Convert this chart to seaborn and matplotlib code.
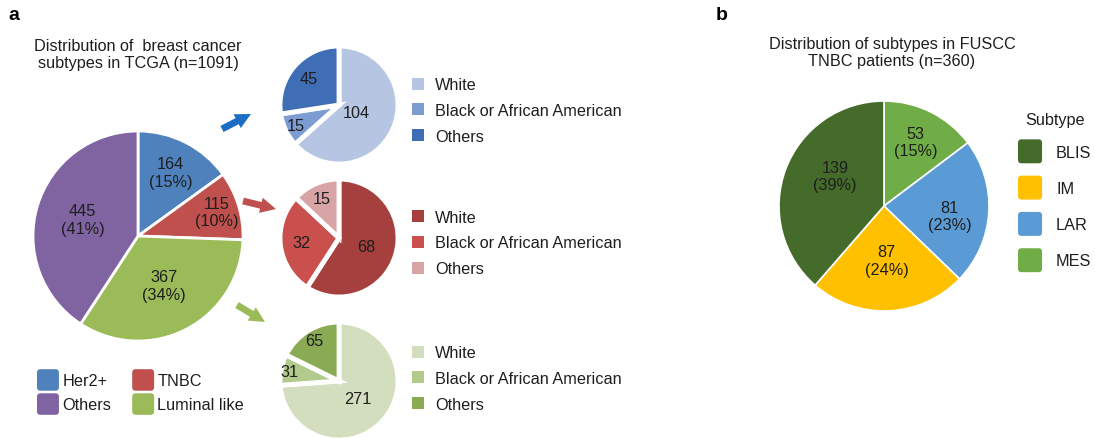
import numpy as np
import matplotlib
matplotlib.use("Agg")
import matplotlib.pyplot as plt
from matplotlib.patches import Patch, FancyBboxPatch
from matplotlib.legend_handler import HandlerPatch
import seaborn as sns

# ---- data ----
tcga_subtypes = ["Her2+", "TNBC", "Luminal like", "Others"]
tcga_counts = [164, 115, 367, 445]
tcga_pct = [15, 10, 34, 41]

race_labels = ["White", "Black or African American", "Others"]
her2_race = [104, 15, 45]
tnbc_race = [68, 32, 15]
luminal_race = [271, 31, 65]

fuscc_subtypes = ["MES", "LAR", "IM", "BLIS"]
fuscc_counts = [53, 81, 87, 139]
fuscc_pct = [15, 23, 24, 39]
legend_order = ["BLIS", "IM", "LAR", "MES"]

# ---- style ----
sns.set_theme(style="white")
plt.rcParams["font.family"] = ["Liberation Sans", "DejaVu Sans"]
TXT = "#1e1e1e"
FS = 11.7

main_colors = sns.color_palette(["#4F81BD", "#C0504D", "#9BBB59", "#8064A2"])
blue_shades = sns.color_palette(["#B6C6E2", "#7C9CD2", "#3F6DB6"])
red_shades = sns.color_palette(["#A5403E", "#C9504D", "#D8A4A5"])
green_shades = sns.color_palette(["#D2DEBD", "#B2CA8B", "#8AAA53"])
fuscc_colors = {"BLIS": "#456B2B", "IM": "#FFC000", "LAR": "#5B9BD5", "MES": "#70AD47"}

W, H = 1095, 439
fig = plt.figure(figsize=(W / 100, H / 100), dpi=100)

# overlay in pixel coordinates for titles and arrows
ov = fig.add_axes([0, 0, 1, 1])
ov.set_xlim(0, W)
ov.set_ylim(H, 0)
ov.axis("off")


def pie_axes(cx, cy, r):
    pad = 1.08
    side = 2 * r * pad
    ax = fig.add_axes([(cx - side / 2) / W, 1 - (cy + side / 2) / H, side / W, side / H])
    return ax, pad


def draw_pie(cx, cy, r, values, colors, labels, dists, lw, turns=None):
    ax, pad = pie_axes(cx, cy, r)
    wedges, _ = ax.pie(values, colors=colors, startangle=90, counterclock=False,
                       wedgeprops=dict(edgecolor="white", linewidth=lw))
    ax.set_xlim(-pad, pad)
    ax.set_ylim(-pad, pad)
    turns = turns or [0] * len(wedges)
    for w, lab, d, t in zip(wedges, labels, dists, turns):
        ang = np.deg2rad((w.theta1 + w.theta2) / 2 + t)
        ax.text(d * np.cos(ang), d * np.sin(ang), lab, ha="center", va="center",
                fontsize=FS, color=TXT, linespacing=1.2)
    return ax, wedges


def rounded(legend, orig_handle, xdescent, ydescent, width, height, fontsize):
    return FancyBboxPatch((-xdescent, -ydescent), width, height,
                          boxstyle="round,pad=0,rounding_size=2.5", mutation_aspect=1)


hmap = {Patch: HandlerPatch(patch_func=rounded)}

# ---- panel a: TCGA subtypes ----
main_labels = [f"{c}\n({p}%)" for c, p in zip(tcga_counts, tcga_pct)]
_, main_wedges = draw_pie(138, 237, 105, tcga_counts, main_colors, main_labels,
                          [0.68, 0.78, 0.53, 0.55], 2.0)

draw_pie(339, 106, 59, her2_race, blue_shades, [str(v) for v in her2_race],
         [0.33, 0.81, 0.68], 3.5)
draw_pie(339, 239, 59, tnbc_race, red_shades, [str(v) for v in tnbc_race],
         [0.48, 0.64, 0.73], 3.5)
draw_pie(339, 382, 59, luminal_race, green_shades, [str(v) for v in luminal_race],
         [0.44, 0.85, 0.80], 3.5)

ov.text(14, 16, "a", fontsize=14, fontweight="bold", ha="center", va="center", color="black")
ov.text(138, 55, "Distribution of  breast cancer\nsubtypes in TCGA (n=1091)",
        ha="center", va="center", fontsize=FS, color=TXT, linespacing=1.12)

# arrows linking main slices to their breakdowns
arrow_spec = [((222, 130), (251, 115), "#1B6EC2"),
              ((243, 202), (276, 210), "#C0504D"),
              ((237, 306), (265, 323), "#9BBB59")]
for (x0, y0), (x1, y1), c in arrow_spec:
    ov.annotate("", xy=(x1, y1), xytext=(x0, y0),
                arrowprops=dict(arrowstyle="simple,head_length=0.8,head_width=0.8,tail_width=0.35",
                                color=c, mutation_scale=14, shrinkA=0, shrinkB=0, lw=0))

# main legend (2 columns: Her2+/Others, TNBC/Luminal like)
order = [0, 3, 1, 2]
main_handles = [Patch(facecolor=main_colors[i], edgecolor="none") for i in order]
fig.legend(main_handles, [tcga_subtypes[i] for i in order], ncol=2,
           loc="center left", bbox_to_anchor=(37 / W, 1 - 393 / H),
           frameon=False, fontsize=FS, handlelength=1.35, handleheight=1.66,
           handletextpad=0.2, labelspacing=0.16, columnspacing=1.3, borderpad=0,
           borderaxespad=0, handler_map=hmap, labelcolor=TXT)

# race legends
for shades, cy in [(blue_shades, 111.5), (red_shades, 244), (green_shades, 379.5)]:
    hs = [Patch(facecolor=c, edgecolor="none") for c in shades]
    fig.legend(hs, race_labels, loc="center left", bbox_to_anchor=(412 / W, 1 - cy / H),
               frameon=False, fontsize=FS, handlelength=0.74, handleheight=0.76,
               handletextpad=0.68, labelspacing=0.665, borderpad=0, borderaxespad=0,
               labelcolor=TXT)

# ---- panel b: FUSCC TNBC subtypes ----
fuscc_labels = [f"{c}\n({p}%)" for c, p in zip(fuscc_counts, fuscc_pct)]
draw_pie(884, 207, 105, fuscc_counts, [fuscc_colors[s] for s in fuscc_subtypes],
         fuscc_labels, [0.68, 0.63, 0.52, 0.545], 1.2, turns=[0, -5, 0, -11])

ov.text(722, 16, "b", fontsize=14, fontweight="bold", ha="center", va="center", color="black")
ov.text(892, 53, "Distribution of subtypes in FUSCC\nTNBC patients (n=360)",
        ha="center", va="center", fontsize=FS, color=TXT, linespacing=1.12)

b_handles = [Patch(facecolor=fuscc_colors[s], edgecolor="none") for s in legend_order]
leg = fig.legend(b_handles, legend_order, title="Subtype", loc="upper left",
                 bbox_to_anchor=(1018 / W, 1 - 113 / H), frameon=False, fontsize=FS,
                 title_fontsize=FS, handlelength=1.48, handleheight=1.89,
                 handletextpad=0.86, labelspacing=0.76, borderpad=0, borderaxespad=0,
                 handler_map=hmap, labelcolor=TXT)
leg.get_title().set_color(TXT)

fig.savefig("out.png", dpi=100)
